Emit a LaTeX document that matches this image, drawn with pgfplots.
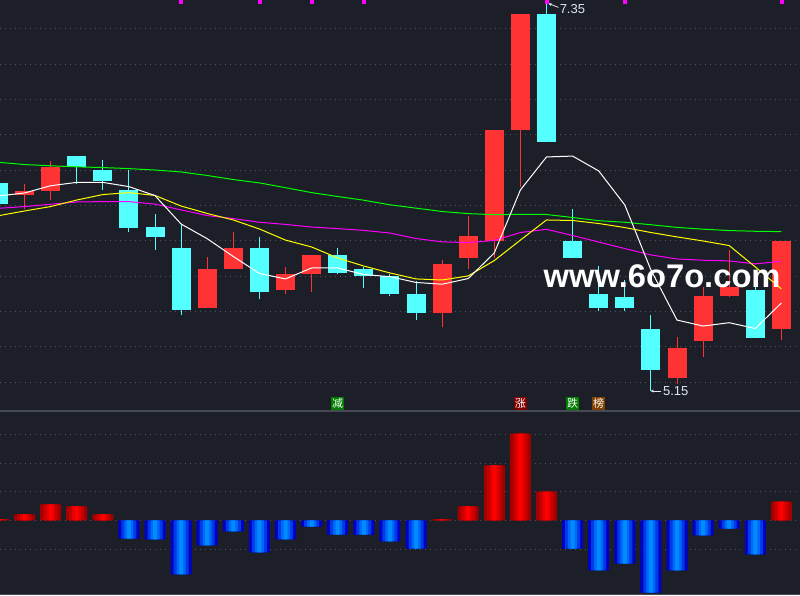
\documentclass[border=0pt]{standalone}
\usepackage{pgfplots}
\pgfplotsset{compat=1.18}
\usepackage{pgfplotstable}
\usetikzlibrary{arrows.meta}
\usepackage{fontspec}
\setmainfont{Liberation Sans}
\newfontfamily\cjk{Noto Sans CJK SC}
\definecolor{bg}{RGB}{28,31,39}
\definecolor{gridc}{RGB}{80,84,94}
\definecolor{cred}{RGB}{255,51,51}
\definecolor{ccyan}{RGB}{84,255,255}
\definecolor{maY}{RGB}{255,255,0}
\definecolor{maM}{RGB}{255,0,255}
\definecolor{maG}{RGB}{0,255,0}
\definecolor{r1}{RGB}{160,0,0}
\definecolor{r2}{RGB}{195,0,0}
\definecolor{r3}{RGB}{225,0,0}
\definecolor{r4}{RGB}{255,0,0}
\definecolor{b1}{RGB}{0,0,200}
\definecolor{b2}{RGB}{0,60,230}
\definecolor{b3}{RGB}{0,105,250}
\definecolor{b4}{RGB}{0,140,255}
\definecolor{sep}{RGB}{70,74,84}
\definecolor{lbl}{RGB}{225,232,240}
\definecolor{tgreen}{RGB}{0,125,0}
\definecolor{tred}{RGB}{128,0,0}
\definecolor{tbrown}{RGB}{128,64,0}

% up candles (red): index, open, high, low, close
\pgfplotstableread{
i O H L C
1 6.26 6.32 6.18 6.28
2 6.28 6.45 6.23 6.42
8 5.62 5.91 5.62 5.84
9 5.84 6.05 5.84 5.96
11 5.72 5.85 5.70 5.81
12 5.81 5.92 5.71 5.92
17 5.59 5.89 5.51 5.87
18 5.90 6.14 5.84 6.03
19 6.00 6.63 5.90 6.63
20 6.63 7.285 6.305 7.285
26 5.22 5.455 5.19 5.39
27 5.43 5.74 5.34 5.69
28 5.69 5.95 5.68 5.74
30 5.50 6.00 5.44 6.00
}\redtab

% down candles (cyan)
\pgfplotstableread{
i O H L C
0 6.33 6.33 6.21 6.21
3 6.48 6.48 6.32 6.42
4 6.40 6.46 6.29 6.34
5 6.29 6.40 6.05 6.07
6 6.08 6.15 5.95 6.02
7 5.96 6.09 5.58 5.61
10 5.96 6.02 5.67 5.71
13 5.92 5.96 5.81 5.82
14 5.84 5.85 5.73 5.80
15 5.80 5.81 5.69 5.70
16 5.70 5.77 5.55 5.59
21 7.285 7.35 6.56 6.56
22 6.00 6.18 5.90 5.90
23 5.70 5.86 5.60 5.62
24 5.68 5.78 5.60 5.62
25 5.50 5.58 5.15 5.27
29 5.72 5.74 5.45 5.45
}\cyantab

% moving averages: white, yellow, magenta, green
\pgfplotstableread{
i w y m g
0 6.254 6.142 6.184 6.445
1 6.271 6.169 6.194 6.432
2 6.312 6.194 6.207 6.425
3 6.331 6.231 6.220 6.419
4 6.331 6.262 6.222 6.415
5 6.307 6.273 6.222 6.409
6 6.256 6.257 6.208 6.401
7 6.095 6.197 6.175 6.390
8 6.012 6.155 6.143 6.370
9 5.911 6.118 6.126 6.347
10 5.815 6.067 6.105 6.328
11 5.784 6.004 6.093 6.301
12 5.846 5.965 6.078 6.273
13 5.846 5.903 6.069 6.251
14 5.809 5.857 6.059 6.230
15 5.797 5.818 6.044 6.204
16 5.764 5.784 6.013 6.185
17 5.754 5.778 5.994 6.166
18 5.786 5.801 5.990 6.154
19 5.931 5.888 6.002 6.148
20 6.288 6.004 6.047 6.150
21 6.475 6.118 6.065 6.149
22 6.480 6.115 6.030 6.132
23 6.396 6.098 5.993 6.114
24 6.203 6.075 5.956 6.105
25 5.835 6.047 5.920 6.091
26 5.551 6.022 5.897 6.076
27 5.517 5.999 5.890 6.066
28 5.536 5.973 5.886 6.058
29 5.503 5.852 5.869 6.054
30 5.648 5.727 5.884 6.052
}\matab

% lower panel: positive (red) and negative (blue) bars
\pgfplotstableread{
i v
0 0.05
1 0.21
2 0.56
3 0.49
4 0.21
17 0.04
18 0.49
19 1.92
20 3.03
21 1.01
30 0.66
}\postab
\pgfplotstableread{
i v
5 -0.63
6 -0.66
7 -1.88
8 -0.87
9 -0.38
10 -1.11
11 -0.66
12 -0.21
13 -0.49
14 -0.49
15 -0.73
16 -0.98
22 -0.98
23 -1.74
24 -1.50
25 -2.51
26 -1.74
27 -0.52
28 -0.28
29 -1.18
}\negtab

\pgfplotsset{
  chartbase/.style={
    scale only axis, width=800pt,
    xmin=0.0613, xmax=30.713,
    axis line style={draw=none},
    xtick=\empty,
    yticklabels={},
    ytick style={draw=none},
    major tick length=0pt,
    ymajorgrids,
    major grid style={gridc, dash pattern=on 1pt off 4pt, line width=1pt},
  },
  wick/.style={draw=none, mark=none,
    error bars/.cd, y dir=plus, y explicit, error mark=none,
    error bar style={draw=#1, line width=1pt}},
  body/.style={draw=none, mark=none,
    error bars/.cd, y dir=plus, y explicit, error mark=none,
    error bar style={draw=#1, line width=19pt}},
  stripe/.style 2 args={ybar, bar width=#1, bar shift=0pt, draw=none, fill=#2},
}

\begin{document}
\begin{tikzpicture}[x=1pt,y=1pt]
\path[use as bounding box, fill=bg] (0,0) rectangle (800,595);

% ---------- upper panel: candlesticks ----------
\begin{axis}[chartbase, at={(0pt,184pt)}, anchor=south west, height=411pt,
  ymin=5.0357, ymax=7.3643,
  ytick={5.2,5.4,5.6,5.8,6.0,6.2,6.4,6.6,6.8,7.0,7.2}]
  % wicks
  \addplot[wick=cred] table[x=i, y=L, y error expr={\thisrow{H}-\thisrow{L}}] \redtab;
  \addplot[wick=ccyan] table[x=i, y=L, y error expr={\thisrow{H}-\thisrow{L}}] \cyantab;
  % bodies
  \addplot[body=cred] table[x=i, y=O, y error expr={\thisrow{C}-\thisrow{O}}] \redtab;
  \addplot[body=ccyan] table[x=i, y=C, y error expr={\thisrow{O}-\thisrow{C}}] \cyantab;
  % moving averages
  \addplot[maG, line width=1pt, mark=none] table[x=i, y=g] \matab;
  \addplot[maM, line width=1pt, mark=none] table[x=i, y=m] \matab;
  \addplot[maY, line width=1pt, mark=none] table[x=i, y=y] \matab;
  \addplot[white, line width=1pt, mark=none] table[x=i, y=w] \matab;
  % top markers
  \addplot[only marks, mark=square*, mark size=1.5pt, maM, mark options={draw=none, fill=maM}]
    coordinates {(7,7.356) (10,7.356) (12,7.356) (14,7.356) (21,7.356) (24,7.356) (30,7.356)};
  % high / low labels
  \draw[lbl, line width=0.8pt, -{Stealth[length=3.5pt,width=3pt]}] (axis cs:21.46,7.322) -- (axis cs:21.07,7.345);
  \node[lbl, anchor=west, inner sep=0pt, font=\fontsize{13}{13}\selectfont] at (axis cs:21.50,7.312) {7.35};
  \draw[lbl, line width=0.8pt, -{Stealth[length=3.5pt,width=3pt]}] (axis cs:25.40,5.149) -- (axis cs:24.98,5.149);
  \node[lbl, anchor=west, inner sep=0pt, font=\fontsize{13}{13}\selectfont] at (axis cs:25.46,5.149) {5.15};
  % tags
  \node[fill=tgreen, text=white, inner sep=0pt, minimum size=13pt, font=\cjk\fontsize{11}{11}\selectfont] at (axis cs:13,5.078) {减};
  \node[fill=tred, text=white, inner sep=0pt, minimum size=13pt, font=\cjk\fontsize{11}{11}\selectfont] at (axis cs:20,5.078) {涨};
  \node[fill=tgreen, text=white, inner sep=0pt, minimum size=13pt, font=\cjk\fontsize{11}{11}\selectfont] at (axis cs:22,5.078) {跌};
  \node[fill=tbrown, text=white, inner sep=0pt, minimum size=13pt, font=\cjk\fontsize{11}{11}\selectfont] at (axis cs:23,5.078) {榜};
  % watermark
  \node[white, inner sep=0pt, font=\bfseries\fontsize{32.7}{32.7}\selectfont] at (axis cs:25.43,5.80) {www.6o7o.com};
\end{axis}

% ---------- lower panel: bars ----------
\begin{axis}[chartbase, at={(0pt,0pt)}, anchor=south west, height=184pt,
  ymin=-2.596, ymax=3.815, ytick={-1,0,1,2,3}]
  \addplot[stripe={21pt}{r1}] table[x=i, y=v] \postab;
  \addplot[stripe={15pt}{r2}] table[x=i, y=v] \postab;
  \addplot[stripe={9pt}{r3}] table[x=i, y=v] \postab;
  \addplot[stripe={4pt}{r4}] table[x=i, y=v] \postab;
  \addplot[stripe={21pt}{b1}] table[x=i, y=v] \negtab;
  \addplot[stripe={15pt}{b2}] table[x=i, y=v] \negtab;
  \addplot[stripe={9pt}{b3}] table[x=i, y=v] \negtab;
  \addplot[stripe={4pt}{b4}] table[x=i, y=v] \negtab;
\end{axis}

\draw[sep, line width=1.2pt] (0,184) -- (800,184);
\draw[sep, line width=1pt] (0,1) -- (800,1);
\end{tikzpicture}
\end{document}
